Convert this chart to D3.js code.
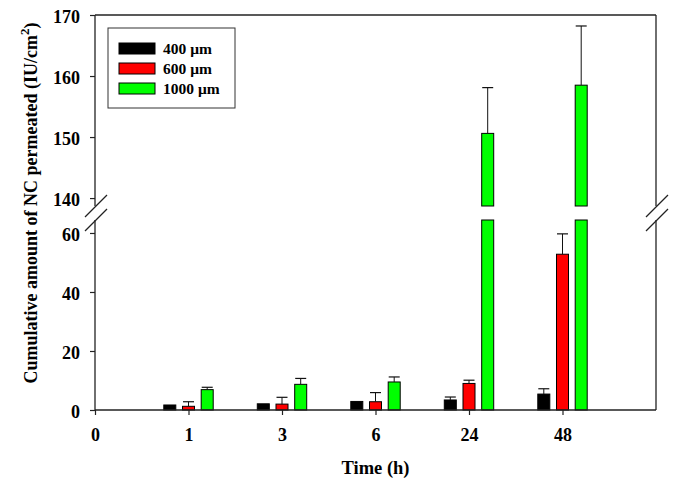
<!DOCTYPE html>
<html><head><meta charset="utf-8">
<script src="https://cdn.jsdelivr.net/npm/d3@7"></script>
<style>body{margin:0;background:#fff}svg{display:block}text{font-family:"Liberation Serif","Times New Roman",serif;font-weight:bold;fill:#000}</style>
</head><body><svg id="c" width="678" height="489"></svg>
<script>
const times = ["0","1","3","6","24","48"];
const series = ["400 μm","600 μm","1000 μm"];
const colors = ["#000000","#ff0000","#00ff00"];
const mean400 = [null,1.7,2.1,2.9,3.4,5.4];
const err400  = [null,0,0,0,1.0,1.8];
const mean600 = [null,1.25,2.0,2.8,9.0,52.8];
const err600  = [null,1.55,2.3,3.1,1.1,6.9];
const mean1000 = [null,6.9,8.7,9.5,150.6,158.5];
const err1000  = [null,0.8,2.0,1.7,7.5,9.7];
const lowerTicks = [0,20,40,60];
const upperTicks = [140,150,160,170];
const lowerDomain = [0,64.4];
const upperDomain = [138.7,170];

const svg = d3.select("#c");
const L = 95, R = 656, T = 15, B = 410, gapTop = 206, gapBot = 220;
const x = d3.scaleLinear().domain([0,6]).range([L,R]);
const inner = d3.scaleBand().domain(series).range([-31.4,31.4]).padding(0.358);
const yLow = d3.scaleLinear().domain(lowerDomain).range([B,gapBot]);
const yUp = d3.scaleLinear().domain(upperDomain).range([gapTop,T]);
const axisColor = "#222";

const means = [mean400,mean600,mean1000], errs = [err400,err600,err1000];
const data = [];
series.forEach((s,si)=>times.forEach((t,ti)=>{ if(means[si][ti]!=null) data.push({s,si,ti,v:means[si][ti],e:errs[si][ti]}); }));

const gBars = svg.append("g");
data.forEach(d=>{
  const x0 = x(d.ti) + inner(d.s), w = inner.bandwidth();
  if (d.v <= lowerDomain[1]) {
    gBars.append("rect").attr("x",x0).attr("y",yLow(d.v)).attr("width",w).attr("height",B-yLow(d.v))
      .attr("fill",colors[d.si]).attr("stroke","#000").attr("stroke-width",1);
  } else {
    gBars.append("rect").attr("x",x0).attr("y",gapBot).attr("width",w).attr("height",B-gapBot)
      .attr("fill",colors[d.si]).attr("stroke","#000").attr("stroke-width",1);
    gBars.append("rect").attr("x",x0).attr("y",yUp(d.v)).attr("width",w).attr("height",gapTop-yUp(d.v))
      .attr("fill",colors[d.si]).attr("stroke","#000").attr("stroke-width",1);
  }
  if (d.e > 0) {
    const y = d.v <= lowerDomain[1] ? yLow : yUp;
    const cx = x0 + w/2, y1 = y(d.v), y2 = y(d.v + d.e);
    gBars.append("line").attr("x1",cx).attr("x2",cx).attr("y1",y1).attr("y2",y2).attr("stroke","#111").attr("stroke-width",1);
    gBars.append("line").attr("x1",cx-5.5).attr("x2",cx+5.5).attr("y1",y2).attr("y2",y2).attr("stroke","#111").attr("stroke-width",1.2);
  }
});

// frame pieces
const frame = svg.append("g").attr("stroke",axisColor).attr("stroke-width",1.3).attr("fill","none");
frame.append("line").attr("x1",L).attr("x2",R).attr("y1",T).attr("y2",T);
[L,R].forEach(xx=>{
  frame.append("line").attr("x1",xx).attr("x2",xx).attr("y1",T).attr("y2",gapTop);
  frame.append("line").attr("x1",xx).attr("x2",xx).attr("y1",gapBot).attr("y2",B);
  frame.append("line").attr("x1",xx-10).attr("x2",xx+12).attr("y1",gapTop+11).attr("y2",gapTop-11);
  frame.append("line").attr("x1",xx-10).attr("x2",xx+12).attr("y1",gapBot+11).attr("y2",gapBot-11);
});

// axes
function styleAxis(g){ g.select(".domain").remove(); g.selectAll(".tick line").attr("stroke",axisColor).attr("stroke-width",1.2);
  g.selectAll(".tick text").attr("font-family",'"Liberation Serif",serif').attr("font-weight","bold").attr("fill","#000"); }
const ax = svg.append("g").attr("transform",`translate(0,${B})`)
  .call(d3.axisBottom(x).tickValues(d3.range(times.length)).tickFormat(i=>times[i]).tickSize(5).tickPadding(13));
styleAxis(ax); ax.selectAll(".tick text").attr("font-size",18);
svg.append("line").attr("x1",L).attr("x2",R).attr("y1",B).attr("y2",B).attr("stroke",axisColor).attr("stroke-width",1.3);
const ayl = svg.append("g").attr("transform",`translate(${L},0)`)
  .call(d3.axisLeft(yLow).tickValues(lowerTicks).tickSize(5).tickPadding(10));
styleAxis(ayl); ayl.selectAll(".tick text").attr("font-size",18).attr("dy","0.4em");
const ayu = svg.append("g").attr("transform",`translate(${L},0)`)
  .call(d3.axisLeft(yUp).tickValues(upperTicks).tickSize(5).tickPadding(10));
styleAxis(ayu); ayu.selectAll(".tick text").attr("font-size",18).attr("dy","0.4em");

// titles
svg.append("text").attr("x",(L+R)/2).attr("y",474).attr("text-anchor","middle").attr("font-size",18.5).text("Time (h)");
const yt = svg.append("text").attr("transform","translate(37,203) rotate(-90)").attr("text-anchor","middle").attr("font-size",18);
yt.append("tspan").text("Cumulative amount of NC permeated (IU/cm");
yt.append("tspan").attr("dy",-8).attr("font-size",13).text("2");
yt.append("tspan").attr("dy",8).text(")");

// legend
const lg = svg.append("g");
lg.append("rect").attr("x",108).attr("y",28).attr("width",127).attr("height",80).attr("fill","#fff").attr("stroke","#333").attr("stroke-width",1);
series.forEach((s,i)=>{
  lg.append("rect").attr("x",119).attr("y",43+i*20).attr("width",36).attr("height",11).attr("fill",colors[i]).attr("stroke","#000").attr("stroke-width",1);
  lg.append("text").attr("x",163).attr("y",54+i*20).attr("font-size",15.5).text(s);
});
</script></body></html>
